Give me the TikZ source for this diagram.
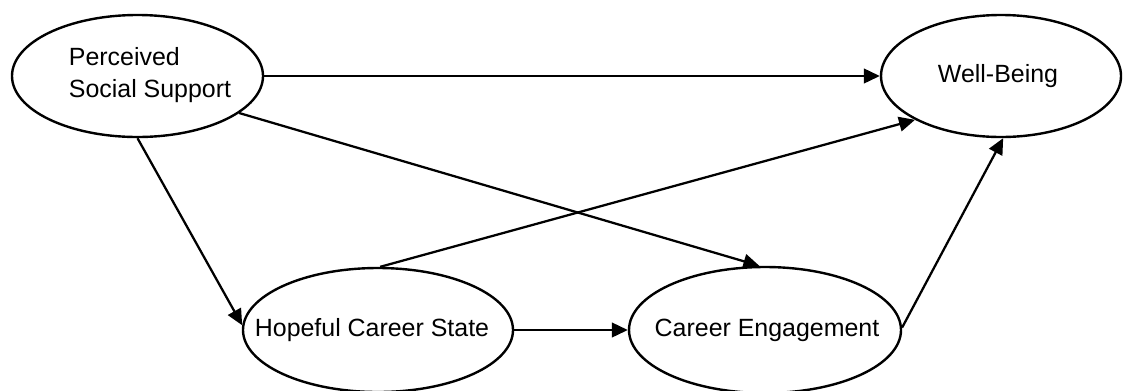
\documentclass[tikz,border=0pt]{standalone}
\usepackage{fontspec}
\setmainfont{Liberation Sans}
\usetikzlibrary{arrows.meta,shapes.geometric}
\def\px{0.75pt}
\tikzset{
  latent/.style={draw=black, line width=1.8pt, ellipse, inner sep=0pt, fill=white},
  lbl/.style={font=\fontsize{18.7pt}{24pt}\selectfont, inner sep=0pt},
  path/.style={draw=black, line width=1.7pt, -{Triangle[length=12pt, width=11pt]}}
}
\begin{document}
\begin{tikzpicture}[x=0.75pt, y=-0.75pt]
\useasboundingbox (0,0) rectangle (1123,390);
\clip (0,0) rectangle (1123,390);
\node[latent, minimum width=251*\px, minimum height=122*\px] (pss) at (137.5,76) {};
\node[lbl, align=left] (psst) at (150,75) {Perceived\\Social Support};
\node[latent, minimum width=240*\px, minimum height=122*\px] (wb) at (1001,76) {};
\node[lbl] (wbt) at (998,76) {Well-Being};
\node[latent, minimum width=270*\px, minimum height=124*\px] (hcs) at (378,330) {};
\node[lbl] (hcst) at (372,330) {Hopeful Career State};
\node[latent, minimum width=272*\px, minimum height=126*\px] (ce) at (765,330) {};
\node[lbl] (cet) at (767,330) {Career Engagement};

\draw[path] (pss.east) -- (wb.west);
\draw[path] (pss.-90) -- (hcs.178);
\draw[path] (pss.-20) -- (ce.95);
\draw[path] (hcs.88) -- (wb.207.6);
\draw[path] (hcs.east) -- (ce.west);
\draw[path] (ce.1) -- (wb.-88);
\end{tikzpicture}
\end{document}
